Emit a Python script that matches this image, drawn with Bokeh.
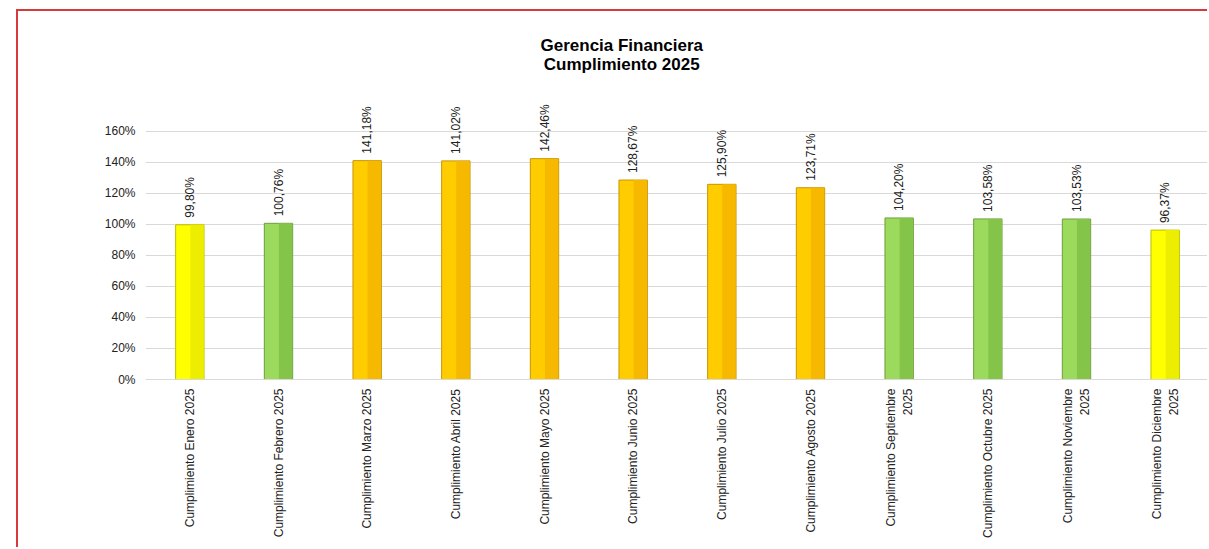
import math
from bokeh.plotting import figure
from bokeh.models import ColumnDataSource, FixedTicker, NumeralTickFormatter, Title
from bokeh.transform import dodge
from bokeh.core.properties import value
from bokeh.embed import file_html
from bokeh.resources import INLINE

categories = [
    "Cumplimiento Enero 2025",
    "Cumplimiento Febrero 2025",
    "Cumplimiento Marzo 2025",
    "Cumplimiento Abril 2025",
    "Cumplimiento Mayo 2025",
    "Cumplimiento Junio 2025",
    "Cumplimiento Julio 2025",
    "Cumplimiento Agosto 2025",
    "Cumplimiento Septiembre\n2025",
    "Cumplimiento Octubre 2025",
    "Cumplimiento Noviembre\n2025",
    "Cumplimiento Diciembre\n2025",
]
values_pct = [99.80, 100.76, 141.18, 141.02, 142.46, 128.67, 125.90, 123.71, 104.20, 103.58, 103.53, 96.37]
status = ["yellow", "green", "orange", "orange", "orange", "orange", "orange", "orange",
          "green", "green", "green", "yellow"]
y_ticks = [0, 0.2, 0.4, 0.6, 0.8, 1.0, 1.2, 1.4, 1.6]
title_text = "Gerencia Financiera\nCumplimiento 2025"

palette = {
    "yellow": ("#FFFF00", "#EDED00", "#BDBD00"),
    "green": ("#9BDA5C", "#84C549", "#6E9E3C"),
    "orange": ("#FFCC00", "#F7B800", "#C99400"),
}

FONT = "Liberation Sans"

src = ColumnDataSource(dict(
    cat=categories,
    val=[v / 100 for v in values_pct],
    lbl=[f"{v:.2f}%".replace(".", ",") for v in values_pct],
    fill=[palette[s][0] for s in status],
    dark=[palette[s][1] for s in status],
    edge=[palette[s][2] for s in status],
))

p = figure(
    x_range=categories, y_range=(0, 1.832),
    width=1191, height=538,
    output_backend="svg", toolbar_location=None,
    min_border_left=127, min_border_right=0, min_border_top=84, min_border_bottom=170,
)
p.styles = {
    "margin-left": "16px", "margin-top": "9px",
    "border-top": "2px solid #D63A3C", "border-left": "2px solid #D63A3C",
}
p.outline_line_color = None
p.background_fill_color = "white"
p.border_fill_color = "white"

p.title.visible = False
p.add_layout(Title(text=title_text, align="left", text_align="center", text_font=FONT,
                   text_font_size="17px", text_font_style="bold", text_color="#000000",
                   standoff=43, offset=395), "above")

p.vbar(x="cat", top="val", width=0.32, source=src, fill_color="fill", line_color="edge", line_width=1)
p.vbar(x=dodge("cat", 0.08, range=p.x_range), top="val", width=0.15, source=src,
       fill_color="dark", line_color=None)

p.text(x="cat", y="val", text="lbl", source=src, angle=math.pi / 2, text_align="left",
       text_baseline="middle", y_offset=-7, text_font=value(FONT), text_font_size="12px",
       text_color="#222222")

p.yaxis.ticker = FixedTicker(ticks=y_ticks)
p.yaxis.formatter = NumeralTickFormatter(format="0%")
p.yaxis.axis_line_color = None
p.yaxis.major_tick_line_color = None
p.yaxis.minor_tick_line_color = None
p.yaxis.major_tick_out = 0
p.yaxis.minor_tick_out = 0
p.yaxis.major_label_text_font = FONT
p.yaxis.major_label_text_font_size = "12px"
p.yaxis.major_label_text_color = "#222222"
p.yaxis.major_label_standoff = 10

p.xaxis.major_label_orientation = math.pi / 2
p.xaxis.axis_line_color = "#D9D9D9"
p.xaxis.major_tick_line_color = None
p.xaxis.minor_tick_line_color = None
p.xaxis.major_tick_out = 0
p.xaxis.minor_tick_out = 0
p.xaxis.major_label_text_font = FONT
p.xaxis.major_label_text_font_size = "12px"
p.xaxis.major_label_text_color = "#222222"
p.xaxis.major_label_standoff = 9

p.xgrid.grid_line_color = None
p.ygrid.ticker = FixedTicker(ticks=y_ticks)
p.ygrid.grid_line_color = "#D9D9D9"
p.x_range.range_padding = 0

open("out.html", "w").write(file_html(p, INLINE))
